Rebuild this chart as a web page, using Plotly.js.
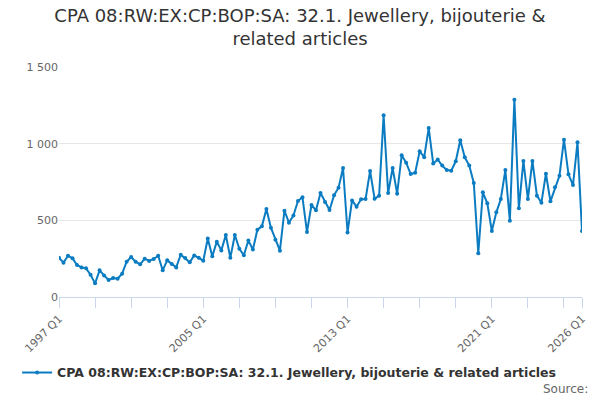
<!DOCTYPE html>
<html>
<head>
<meta charset="utf-8">
<script src="https://cdn.plot.ly/plotly-3.0.1.min.js"></script>
<style>
  html, body { margin: 0; padding: 0; background: #fff; }
  #chart { width: 600px; height: 400px; }
</style>
</head>
<body>
<div id="chart"></div>
<script>
// quarterly series, 1997 Q1 .. 2026 Q1
const startYear = 1997;
const values = [
  256, 224, 269, 252, 209, 193, 187, 145, 89, 174,
  141, 111, 124, 119, 152, 230, 261, 230, 213, 250,
  235, 248, 269, 174, 239, 215, 193, 276, 254, 226,
  271, 256, 237, 382, 265, 361, 304, 404, 256, 404,
  315, 272, 369, 309, 439, 461, 574, 452, 374, 302,
  563, 485, 532, 626, 650, 424, 600, 565, 678, 620,
  567, 663, 713, 841, 421, 630, 589, 637, 639, 822,
  641, 661, 1185, 678, 841, 674, 924, 876, 802, 811,
  950, 912, 1102, 870, 896, 857, 828, 824, 885, 1022,
  911, 857, 744, 285, 683, 611, 430, 552, 639, 828,
  498, 1287, 578, 887, 639, 887, 661, 615, 804, 624,
  715, 791, 1026, 800, 730, 1009, 430
];
const labelledTicks = ['1997 Q1', '2005 Q1', '2013 Q1', '2021 Q1', '2026 Q1'];
const yTicks = [0, 500, 1000, 1500];
const seriesName = 'CPA 08:RW:EX:CP:BOP:SA: 32.1. Jewellery, bijouterie & related articles';

const quarters = values.map((v, i) => (startYear + Math.floor(i / 4)) + ' Q' + (i % 4 + 1));

// tick marks every 2 years plus the last quarter, labels only on some
const tickVals = quarters.filter((q, i) => i % 8 === 0 || i === quarters.length - 1);
const tickText = tickVals.map(q => labelledTicks.includes(q) ? q : '');

const font = 'DejaVu Sans, Verdana, sans-serif';
const blue = '#0b7cc1';

const trace = {
  x: quarters,
  y: values,
  name: seriesName,
  type: 'scatter',
  mode: 'lines+markers',
  line: { color: blue, width: 2 },
  marker: { color: blue, size: 4 },
};

const layout = {
  width: 600,
  height: 400,
  margin: { l: 59, r: 18, t: 67, b: 103 },
  font: { family: font, color: '#333' },
  paper_bgcolor: '#fff',
  plot_bgcolor: '#fff',
  title: {
    text: 'CPA 08:RW:EX:CP:BOP:SA: 32.1. Jewellery, bijouterie &<br>related articles',
    font: { family: font, size: 18, color: '#333' },
    x: 0.5, xanchor: 'center',
    y: 0.945, yanchor: 'top',
  },
  xaxis: {
    type: 'category',
    range: [0, values.length - 1],
    tickvals: tickVals,
    ticktext: tickText,
    tickangle: -45,
    ticks: 'outside',
    ticklen: 10,
    tickcolor: '#ccd6eb',
    showline: true,
    linecolor: '#ccd6eb',
    linewidth: 1,
    showgrid: false,
    tickfont: { family: font, size: 11, color: '#666' },
    fixedrange: true,
  },
  yaxis: {
    range: [0, 1500],
    tickvals: yTicks,
    separatethousands: true,
    gridcolor: '#e6e6e6',
    zeroline: false,
    showline: false,
    tickfont: { family: font, size: 11, color: '#666' },
    fixedrange: true,
  },
  separators: '. ',
  showlegend: true,
  legend: {
    orientation: 'h',
    x: 0.44, xanchor: 'center',
    y: -0.33, yanchor: 'middle',
    font: { family: font, size: 12.5, color: '#333', weight: 'bold' },
  },
  annotations: [{
    text: 'Source:',
    xref: 'paper', yref: 'paper',
    x: 1.016, xanchor: 'right',
    y: -0.40, yanchor: 'middle',
    showarrow: false,
    font: { family: font, size: 12, color: '#666' },
  }],
};

Plotly.newPlot('chart', [trace], layout, { displayModeBar: false, staticPlot: true });
</script>
</body>
</html>
